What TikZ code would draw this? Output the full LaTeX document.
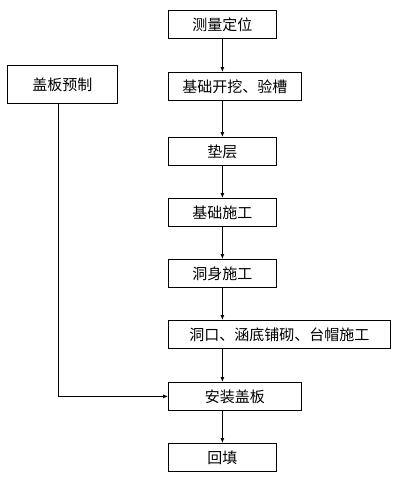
\documentclass[tikz,border=0pt]{standalone}
\usepackage{fontspec}
\setmainfont{Noto Sans CJK SC}
\usetikzlibrary{arrows.meta,positioning}

\begin{document}
\begin{tikzpicture}[x=1pt,y=-1pt,box/.style={draw,line width=0.8pt,anchor=north west,minimum height=28pt,inner sep=0pt,font=\fontsize{15}{18}\selectfont},arr/.style={-{Latex[length=5pt,width=4pt]},line width=0.8pt}]
\useasboundingbox (0,0) rectangle (397,482);
\node[box,minimum width=108pt] (a) at (168,10) {测量定位};
\node[box,minimum width=133pt] (b) at (168,72) {基础开挖、验槽};
\node[box,minimum width=108pt] (c) at (168,137) {垫层};
\node[box,minimum width=108pt] (d) at (168,198) {基础施工};
\node[box,minimum width=108pt] (e) at (168,259) {洞身施工};
\node[box,minimum width=222pt] (f) at (168,320) {洞口、涵底铺砌、台帽施工};
\node[box,minimum width=133pt] (g) at (168,382) {安装盖板};
\node[box,minimum width=108pt] (h) at (168,443) {回填};
\node[box,minimum width=110pt,minimum height=38pt] (p) at (7,65) {盖板预制};
\draw[arr] (a.south)--(a.south |- b.north);
\draw[arr] (c.north |- b.south)--(c.north);
\draw[arr] (c)--(d);\draw[arr] (d)--(e);
\draw[arr] (e.south)--(e.south |- f.north);
\draw[arr] (e.south |- f.south)--(e.south |- g.north);
\draw[arr] (h.north |- g.south)--(h.north);
\draw[arr] ([xshift=-4pt]p.south)--([xshift=-4pt]p.south |- g.west)--(g.west);
\end{tikzpicture}
\end{document}
